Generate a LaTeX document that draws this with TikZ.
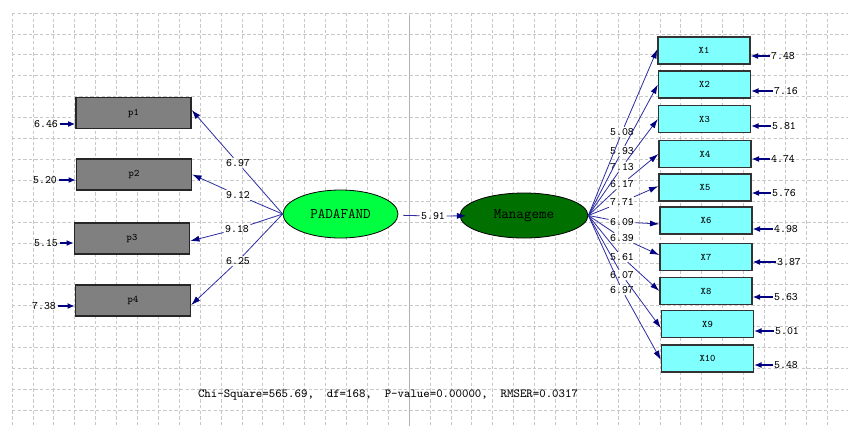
\documentclass[tikz,border=0pt]{standalone}
\usepackage{fontspec}
\usetikzlibrary{arrows.meta,shapes.geometric}
\definecolor{gridc}{RGB}{200,200,200}
\definecolor{pathc}{RGB}{45,45,160}
\definecolor{headc}{RGB}{0,0,128}
\definecolor{obsgray}{RGB}{128,128,128}
\definecolor{obscyan}{RGB}{128,255,255}
\definecolor{latlight}{RGB}{0,255,64}
\definecolor{latdark}{RGB}{0,112,0}
\begin{document}
\begin{tikzpicture}[x=0.75pt,y=-0.75pt,
  gridline/.style={gridc, line width=0.55pt, dash pattern=on 2.6pt off 1.6pt},
  gbox/.style={draw=black!85, line width=1pt, fill=obsgray, minimum width=86.25pt, minimum height=23.25pt, inner sep=0pt, font=\ttfamily\fontsize{7.5}{8}\selectfont},
  cbox/.style={draw=black!80, line width=1pt, fill=obscyan, minimum width=69pt, minimum height=20.25pt, inner sep=0pt, font=\ttfamily\fontsize{7.5}{8}\selectfont},
  lat/.style={ellipse, draw=black, line width=0.6pt, inner sep=0pt, font=\ttfamily\fontsize{11}{12}\selectfont},
  val/.style={inner sep=1pt, font=\ttfamily\fontsize{8.5}{9}\selectfont},
  conn/.style={pathc, line width=0.6pt},
  arr/.style={conn, -{Latex[length=7pt,width=4.5pt,color=headc]}},
  earr/.style={headc, line width=1pt, -{Latex[length=5.5pt,width=4.5pt,color=headc]}}
]
\useasboundingbox (0,0) rectangle (848,426);
\fill[white] (0,0) rectangle (848,426);
% grid
\foreach \k in {0,...,39} \draw[gridline] ({12+20.9*\k},13) -- ({12+20.9*\k},426);
\foreach \k in {0,...,19} \draw[gridline] (12,{13+20.9*\k}) -- (848,{13+20.9*\k});
\draw[gray!60, line width=0.7pt] (409,16) -- (409,426);

% observed left
\node[gbox] (p1) at (133.5,113) {p1};
\node[gbox] (p2) at (134,174.5) {p2};
\node[gbox] (p3) at (132,238.5) {p3};
\node[gbox] (p4) at (133,300.5) {p4};

% latent
\node[lat, fill=latlight, minimum width=86.25pt, minimum height=36pt] (P) at (340.5,214) {PADAFAND};
\node[lat, fill=latdark, minimum width=96pt, minimum height=33.75pt] (M) at (524,215.5) {Manageme};

% observed right
\node[cbox] (X1) at (704,50.5) {X1};
\node[cbox] (X2) at (704.5,84.5) {X2};
\node[cbox] (X3) at (704.5,119) {X3};
\node[cbox] (X4) at (705,154) {X4};
\node[cbox] (X5) at (705,187.5) {X5};
\node[cbox] (X6) at (706,220.5) {X6};
\node[cbox] (X7) at (706,257) {X7};
\node[cbox] (X8) at (706,291) {X8};
\node[cbox] (X9) at (707.5,324) {X9};
\node[cbox] (X10) at (707.5,358.5) {X10};

% left loadings
\node[val] (l1) at (238,163) {6.97};
\node[val] (l2) at (238,195) {9.12};
\node[val] (l3) at (237,229) {9.18};
\node[val] (l4) at (238,261) {6.25};
\draw[conn] (P.west) -- (l1); \draw[arr] (l1) -- ([yshift=2.25pt]p1.east);
\draw[conn] (P.west) -- (l2); \draw[arr] (l2) -- (p2.east);
\draw[conn] (P.west) -- (l3); \draw[arr] (l3) -- ([yshift=-1.9pt]p3.east);
\draw[conn] (P.west) -- (l4); \draw[arr] (l4) -- ([yshift=-3.4pt]p4.east);

% structural path
\node[val] (s1) at (433,216) {5.91};
\draw[conn, shorten <=3.75pt] (P) -- (s1);
\draw[arr, shorten >=-5pt] (s1) -- (M);

% right loadings
\node[val] (r1) at (622,132) {5.08};
\node[val] (r2) at (622,151) {5.93};
\node[val] (r3) at (622,167) {7.13};
\node[val] (r4) at (622,184) {6.17};
\node[val] (r5) at (622,202) {7.71};
\node[val] (r6) at (622,222) {6.09};
\node[val] (r7) at (622,238) {6.39};
\node[val] (r8) at (622,257) {5.61};
\node[val] (r9) at (622,275) {6.07};
\node[val] (r10) at (622,290) {6.97};
\draw[conn] (M.east) -- (r1); \draw[arr] (r1) -- ([yshift=1pt]X1.west);
\draw[conn] (M.east) -- (r2); \draw[arr] (r2) -- (X2.west);
\draw[conn] (M.east) -- (r3); \draw[arr] (r3) -- (X3.west);
\draw[conn] (M.east) -- (r4); \draw[arr] (r4) -- (X4.west);
\draw[conn] (M.east) -- (r5); \draw[arr] (r5) -- ([yshift=1pt]X5.west);
\draw[conn] (M.east) -- (r6); \draw[arr] (r6) -- ([yshift=-2.6pt]X6.west);
\draw[conn] (M.east) -- (r7); \draw[arr] (r7) -- ([yshift=1.5pt]X7.west);
\draw[conn] (M.east) -- (r8); \draw[arr] (r8) -- (X8.west);
\draw[conn] (M.east) -- (r9); \draw[arr] (r9) -- ([yshift=-3pt]X9.west);
\draw[conn] (M.east) -- (r10); \draw[arr] (r10) -- ([yshift=-1.1pt]X10.west);

% left errors
\node[val] (f1) at (46,124) {6.46};
\node[val] (f2) at (45,180) {5.20};
\node[val] (f3) at (46,243) {5.15};
\node[val] (f4) at (44,306) {7.38};
\draw[earr] (f1) -- (f1 -| p1.west);
\draw[earr] (f2) -- (f2 -| p2.west);
\draw[earr] (f3) -- (f3 -| p3.west);
\draw[earr] (f4) -- (f4 -| p4.west);

% right errors
\node[val] (e1) at (783,56) {7.48};
\node[val] (e2) at (786,91) {7.16};
\node[val] (e3) at (784,126) {5.81};
\node[val] (e4) at (783,159) {4.74};
\node[val] (e5) at (784,193) {5.76};
\node[val] (e6) at (786,229) {4.98};
\node[val] (e7) at (789,262) {3.87};
\node[val] (e8) at (786,297) {5.63};
\node[val] (e9) at (787,331) {5.01};
\node[val] (e10) at (786,365) {5.48};
\draw[earr] (e1) -- (e1 -| X1.east);
\draw[earr] (e2) -- (e2 -| X2.east);
\draw[earr] (e3) -- (e3 -| X3.east);
\draw[earr] (e4) -- (e4 -| X4.east);
\draw[earr] (e5) -- (e5 -| X5.east);
\draw[earr] (e6) -- (e6 -| X6.east);
\draw[earr] (e7) -- (e7 -| X7.east);
\draw[earr] (e8) -- (e8 -| X8.east);
\draw[earr] (e9) -- (e9 -| X9.east);
\draw[earr] (e10) -- (e10 -| X10.east);

% fit statistics
\node[inner sep=0pt, font=\ttfamily\fontsize{9.2}{10}\selectfont] (fitstat) at (388,395) {Chi-Square=565.69,~~df=168,~~P-value=0.00000,~~RMSER=0.0317};
\end{tikzpicture}
\end{document}
